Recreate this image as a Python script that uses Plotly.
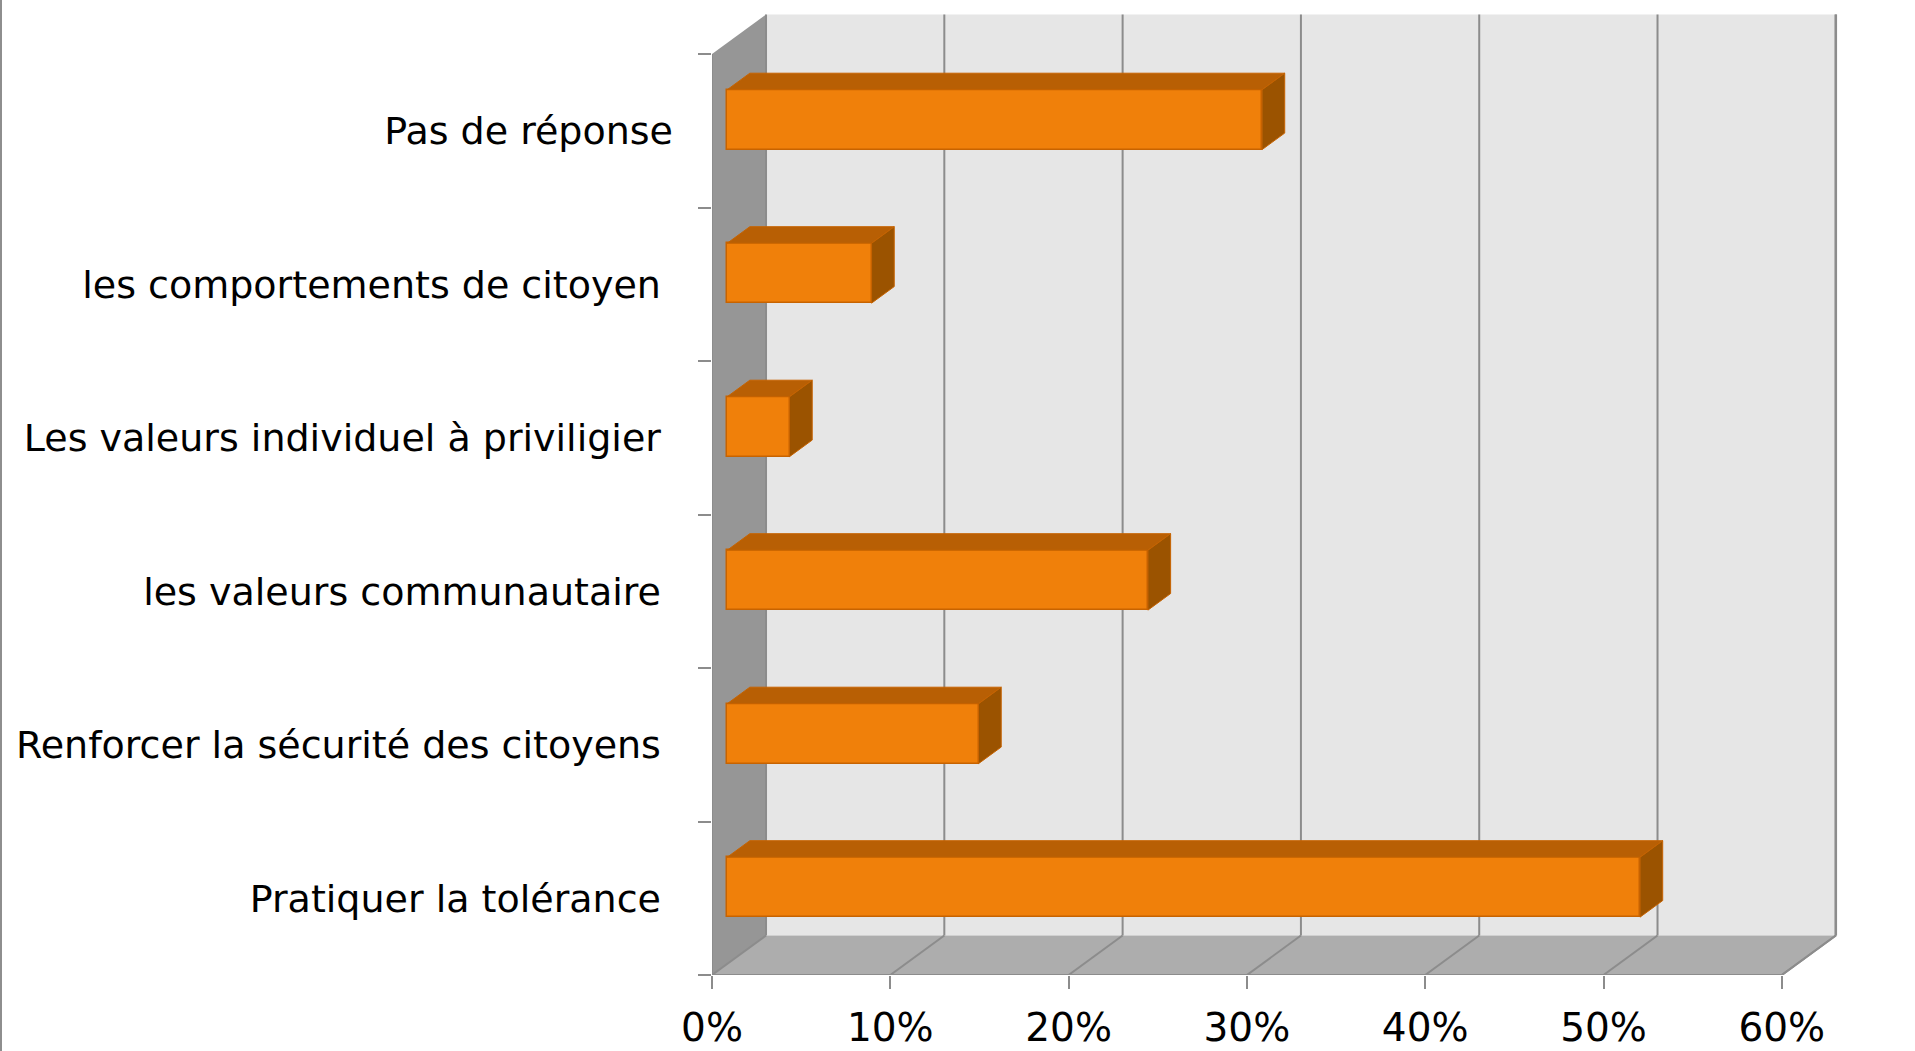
import plotly.graph_objects as go

# ---- data (bottom to top as drawn) ----
categories = [
    "Pratiquer la tolérance\u00a0",
    "Renforcer la sécurité des citoyens\u00a0",
    "les valeurs communautaire\u00a0",
    "Les valeurs individuel à priviligier\u00a0",
    "les comportements de citoyen\u00a0",
    "Pas de réponse",
]
values = [51.2, 14.1, 23.6, 3.5, 8.1, 30.0]
x_ticks = [0, 10, 20, 30, 40, 50, 60]
x_tick_labels = ["0%", "10%", "20%", "30%", "40%", "50%", "60%"]

# ---- 3D geometry (in axis units) ----
DX = 3.03      # depth offset along x (percent units)
DY = 0.257     # depth offset along y (category units)
D0, D1 = 0.28, 0.70   # bar front/back depth fraction
HALF = 0.195          # half bar thickness
XMAX = 60
N = len(categories)

FONT = "DejaVu Sans"
GRID = "#8c8c8c"

ML, MR, MT, MB = 712, 68, 5, 76
plot_w = 1915 - ML - MR
plot_h = 1051 - MT - MB

fig = go.Figure()

shapes = []
def poly(pts, fill, line_color=None, width=0):
    path = "M " + " L ".join(f"{x},{y}" for x, y in pts) + " Z"
    shapes.append(dict(type="path", path=path, xref="x", yref="y",
                       fillcolor=fill, layer="below",
                       line=dict(color=line_color or fill, width=width)))

def seg(p, q, color=GRID, width=2):
    shapes.append(dict(type="line", x0=p[0], y0=p[1], x1=q[0], y1=q[1],
                       xref="x", yref="y", layer="below",
                       line=dict(color=color, width=width)))

yb, yt = -0.5, N - 0.5
# back wall
poly([(DX, yb + DY), (DX, yt + DY), (XMAX + DX, yt + DY), (XMAX + DX, yb + DY)], "#e6e6e6")
# floor
poly([(0, yb), (DX, yb + DY), (XMAX + DX, yb + DY), (XMAX, yb)], "#adadad")
# left wall
poly([(0, yb), (0, yt), (DX, yt + DY), (DX, yb + DY)], "#969696")
# gridlines on back wall and floor
for v in x_ticks:
    seg((v + DX, yb + DY), (v + DX, yt + DY))
    seg((v, yb), (v + DX, yb + DY))
# edges
seg((0, yb), (XMAX, yb))
seg((0, yb), (0, yt))
seg((XMAX, yb), (XMAX + DX, yb + DY))
seg((XMAX + DX, yb + DY), (XMAX + DX, yt + DY), width=2.5)
# slide border at far left
bx = (1 - ML) / plot_w
shapes.append(dict(type="line", xref="paper", yref="paper",
                   x0=bx, x1=bx, y0=-MB / plot_h - 0.01, y1=1 + MT / plot_h + 0.01,
                   line=dict(color="#8e8e8e", width=2)))

# bar top and side faces
TOP_C, SIDE_C, FRONT_C, EDGE_C = "#b85f04", "#9b5300", "#f0800a", "#c76300"
for i, v in enumerate(values):
    yc = i + D0 * DY
    x0 = D0 * DX
    dx = (D1 - D0) * DX
    dy = (D1 - D0) * DY
    top_x = [x0, x0 + dx, v + x0 + dx, v + x0, x0]
    top_y = [yc + HALF, yc + HALF + dy, yc + HALF + dy, yc + HALF, yc + HALF]
    fig.add_trace(go.Scatter(x=top_x, y=top_y, mode="lines", fill="toself",
                             fillcolor=TOP_C, line=dict(color=EDGE_C, width=1),
                             hoverinfo="skip", showlegend=False))
    side_x = [v + x0, v + x0 + dx, v + x0 + dx, v + x0, v + x0]
    side_y = [yc - HALF, yc - HALF + dy, yc + HALF + dy, yc + HALF, yc - HALF]
    fig.add_trace(go.Scatter(x=side_x, y=side_y, mode="lines", fill="toself",
                             fillcolor=SIDE_C, line=dict(color=EDGE_C, width=1),
                             hoverinfo="skip", showlegend=False))

# bar front faces
fig.add_trace(go.Bar(
    x=values,
    y=[i + D0 * DY for i in range(N)],
    base=D0 * DX,
    orientation="h",
    width=2 * HALF,
    marker=dict(color=FRONT_C, line=dict(color=EDGE_C, width=1.5)),
    showlegend=False,
))

fig.update_layout(
    width=1915, height=1051,
    margin=dict(l=ML, r=MR, t=MT, b=MB, autoexpand=False),
    paper_bgcolor="white", plot_bgcolor="white",
    shapes=shapes,
    bargap=0,
    xaxis=dict(
        range=[0, plot_w / 17.83],
        automargin=False,
        tickmode="array", tickvals=x_ticks, ticktext=x_tick_labels,
        ticks="outside", ticklen=13, tickwidth=2, tickcolor=GRID,
        showgrid=False, zeroline=False, showline=False,
        tickfont=dict(family=FONT, size=39, color="black"),
        ticklabelstandoff=5,
    ),
    yaxis=dict(
        range=[-0.5, -0.5 + plot_h / 153.5],
        automargin=False,
        tickmode="array", tickvals=list(range(N)), ticktext=categories,
        ticks="", showgrid=False, zeroline=False, showline=False,
        minor=dict(tickmode="array", tickvals=[k - 0.5 for k in range(N + 1)],
                   ticks="outside", ticklen=13, tickwidth=2, tickcolor=GRID,
                   showgrid=False),
        tickfont=dict(family=FONT, size=38, color="black"),
        ticklabelstandoff=38,
    ),
)

fig.write_html(
    "out.html",
    config={"displayModeBar": False},
    post_script="document.body.style.margin='0';document.body.style.overflow='hidden';",
)
